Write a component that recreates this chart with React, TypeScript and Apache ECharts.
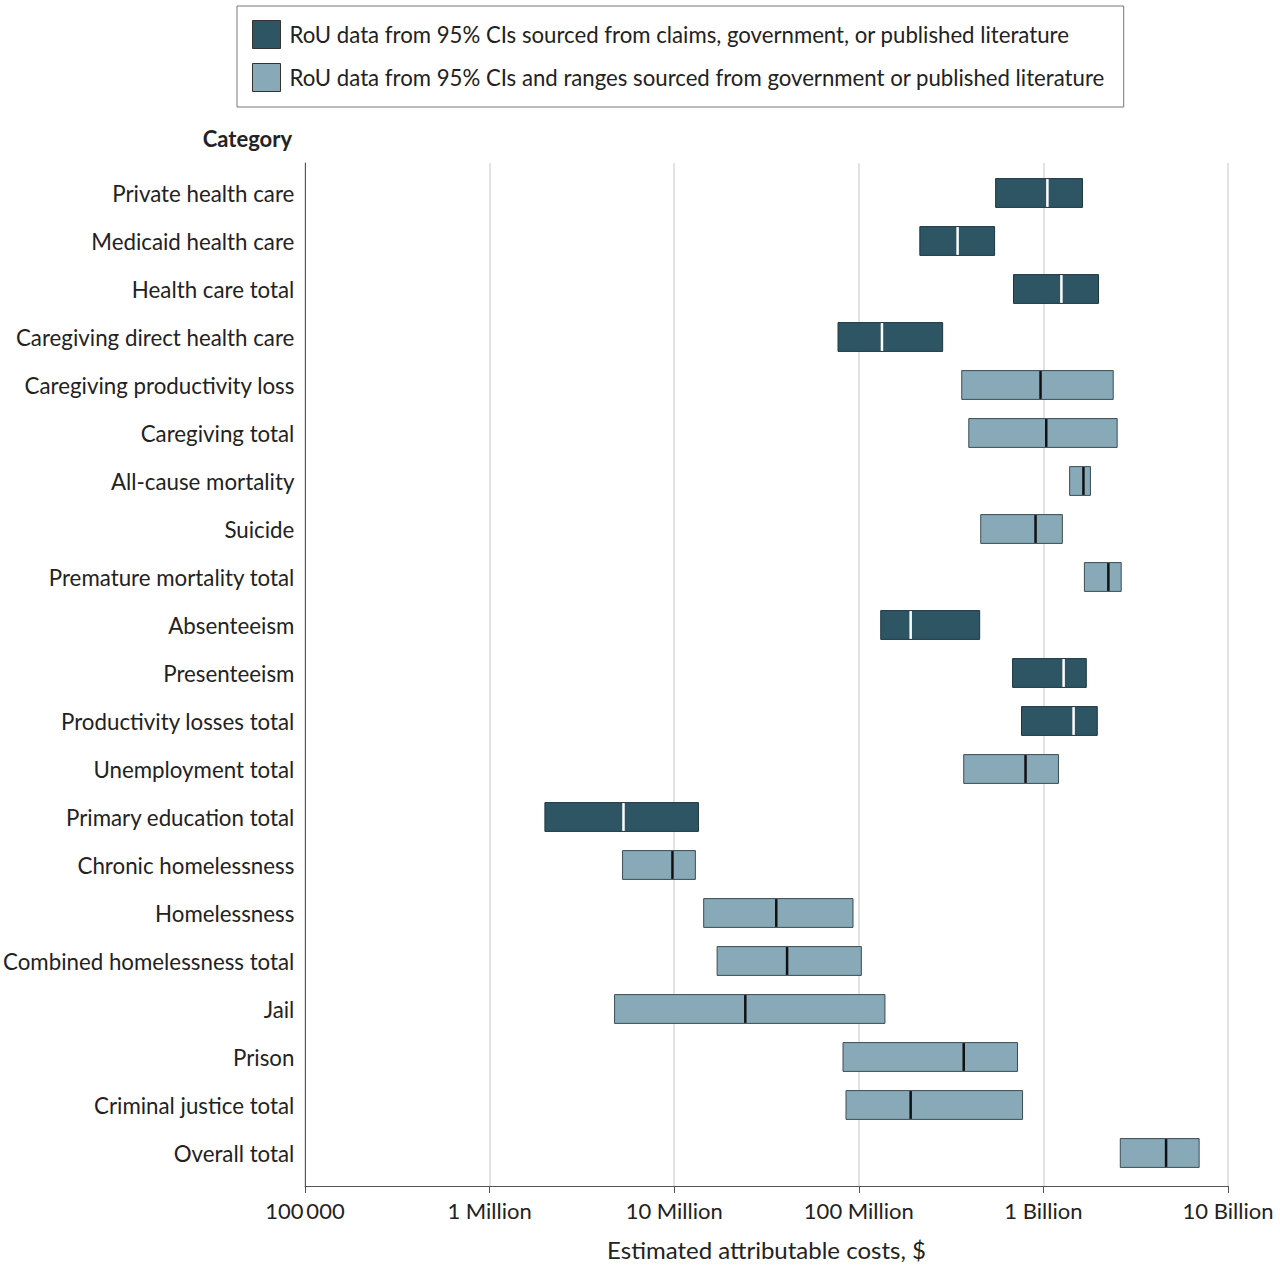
import React, { useEffect, useRef } from "react";
import * as echarts from "echarts";

const categories = [
  "Private health care",
  "Medicaid health care",
  "Health care total",
  "Caregiving direct health care",
  "Caregiving productivity loss",
  "Caregiving total",
  "All-cause mortality",
  "Suicide",
  "Premature mortality total",
  "Absenteeism",
  "Presenteeism",
  "Productivity losses total",
  "Unemployment total",
  "Primary education total",
  "Chronic homelessness",
  "Homelessness",
  "Combined homelessness total",
  "Jail",
  "Prison",
  "Criminal justice total",
  "Overall total",
];

// A = claims, government, or published literature; B = government or published literature
const sourceGroup = [
  "A", "A", "A", "A", "B", "B", "B", "B", "B", "A", "A",
  "A", "B", "A", "B", "B", "B", "B", "B", "B", "B",
];

const lowValues = [
  5.47e8, 2.12e8, 6.84e8, 7.62e7, 3.58e8, 3.91e8, 1.38e9, 4.54e8, 1.66e9, 1.3e8, 6.76e8,
  7.56e8, 3.67e8, 1.95e6, 5.15e6, 1.42e7, 1.68e7, 4.66e6, 8.11e7, 8.42e7, 2.6e9,
];
const medianValues = [
  1.045e9, 3.4e8, 1.245e9, 1.32e8, 9.59e8, 1.03e9, 1.64e9, 9.01e8, 2.24e9, 1.89e8, 1.28e9,
  1.45e9, 7.95e8, 5.21e6, 9.61e6, 3.52e7, 4.03e7, 2.39e7, 3.67e8, 1.89e8, 4.61e9,
];
const highValues = [
  1.62e9, 5.4e8, 1.98e9, 2.82e8, 2.38e9, 2.5e9, 1.79e9, 1.26e9, 2.63e9, 4.48e8, 1.7e9,
  1.95e9, 1.2e9, 1.33e7, 1.28e7, 9.19e7, 1.02e8, 1.37e8, 7.19e8, 7.66e8, 6.97e9,
];

const tickLabels: Record<string, string> = {
  "100000": "100\u2009000",
  "1000000": "1 Million",
  "10000000": "10 Million",
  "100000000": "100 Million",
  "1000000000": "1 Billion",
  "10000000000": "10 Billion",
};

const seriesNames = {
  A: "RoU data from 95% CIs sourced from claims, government, or published literature",
  B: "RoU data from 95% CIs and ranges sourced from government or published literature",
};

const FONT = "Lato, 'Noto Sans', sans-serif";

export default function App() {
  const ref = useRef<HTMLDivElement>(null);

  useEffect(() => {
    document.body.style.margin = "0";
    if (!ref.current) return;
    const chart = echarts.init(ref.current, null, { renderer: "svg" });

    const buildData = (g: string) =>
      categories
        .map((_, i) => (sourceGroup[i] === g ? [lowValues[i], highValues[i], medianValues[i], i] : null))
        .filter((d) => d !== null);

    const makeRender = (fill: string, stroke: string, medianColor: string) =>
      (params: any, api: any) => {
        const cat = api.value(3);
        const lo = api.coord([api.value(0), cat]);
        const hi = api.coord([api.value(1), cat]);
        const md = api.coord([api.value(2), cat]);
        const band = api.size([1, 1])[1] || 48;
        const h = band * 0.6;
        return {
          type: "group",
          children: [
            {
              type: "rect",
              shape: { x: lo[0], y: lo[1] - h / 2, width: hi[0] - lo[0], height: h },
              style: { fill, stroke, lineWidth: 1 },
            },
            {
              type: "line",
              shape: { x1: md[0], y1: lo[1] - h / 2 + 0.5, x2: md[0], y2: lo[1] + h / 2 - 0.5 },
              style: { stroke: medianColor, lineWidth: 2.5 },
            },
          ],
        };
      };

    const darkFill = "#2e5563";
    const lightFill = "#88a9b8";

    chart.setOption({
      animation: false,
      textStyle: { fontFamily: FONT },
      legend: {
        orient: "vertical",
        left: 237,
        top: 6,
        padding: [14, 19, 15, 15],
        itemGap: 14,
        itemWidth: 28,
        itemHeight: 28,
        borderColor: "#777",
        borderWidth: 1,
        icon: "rect",
        itemStyle: { borderColor: "#333", borderWidth: 1 },
        textStyle: { fontSize: 22.2, color: "#222", fontFamily: FONT, padding: [0, 0, 2, 4] },
        data: [seriesNames.A, seriesNames.B],
      },
      grid: [
        { left: 305, right: 52, top: 163, bottom: 82 },
        { left: 305, right: 52, top: 169, bottom: 91 },
      ],
      xAxis: [
        {
          gridIndex: 0,
          type: "log",
          logBase: 10,
          min: 1e5,
          max: 1e10,
          axisLine: { show: true, lineStyle: { color: "#555", width: 1 } },
          axisTick: { show: true, length: 7, lineStyle: { color: "#555" } },
          axisLabel: {
            fontSize: 22,
            color: "#222",
            margin: 13,
            fontFamily: FONT,
            formatter: (v: number) => tickLabels[String(Math.round(v))] ?? "",
          },
          splitLine: { show: true, lineStyle: { color: "#d8d8d8", width: 1.5 } },
          name: "Estimated attributable costs, $",
          nameLocation: "middle",
          nameGap: 51,
          nameTextStyle: { fontSize: 24, color: "#222", fontFamily: FONT },
        },
        {
          gridIndex: 1,
          type: "log",
          logBase: 10,
          min: 1e5,
          max: 1e10,
          show: false,
          splitLine: { show: false },
        },
      ],
      yAxis: [
        {
          gridIndex: 0,
          type: "value",
          min: 0,
          max: 1,
          axisLine: { show: true, lineStyle: { color: "#555", width: 1 } },
          axisTick: { show: false },
          axisLabel: { show: false },
          splitLine: { show: false },
        },
        {
          gridIndex: 1,
          type: "category",
          data: categories,
          inverse: true,
          axisLine: { show: false },
          axisTick: { show: false },
          splitLine: { show: false },
          axisLabel: {
            fontSize: 22.3,
            color: "#222",
            margin: 13,
            fontFamily: FONT,
          },
        },
      ],
      graphic: [
        {
          type: "text",
          x: 292,
          y: 138,
          style: {
            text: "Category",
            textAlign: "right",
            textVerticalAlign: "middle",
            fontSize: 22,
            fontWeight: "bold",
            fill: "#222",
            fontFamily: FONT,
          },
        },
      ],
      series: [
        {
          name: seriesNames.A,
          type: "custom",
          xAxisIndex: 1,
          yAxisIndex: 1,
          itemStyle: { color: darkFill },
          encode: { x: [0, 1, 2], y: 3 },
          renderItem: makeRender(darkFill, "#1c3641", "#ffffff"),
          data: buildData("A"),
        },
        {
          name: seriesNames.B,
          type: "custom",
          xAxisIndex: 1,
          yAxisIndex: 1,
          itemStyle: { color: lightFill },
          encode: { x: [0, 1, 2], y: 3 },
          renderItem: makeRender(lightFill, "#3a4c54", "#111111"),
          data: buildData("B"),
        },
      ],
    });

    return () => chart.dispose();
  }, []);

  return <div ref={ref} style={{ width: 1280, height: 1268 }} />;
}
